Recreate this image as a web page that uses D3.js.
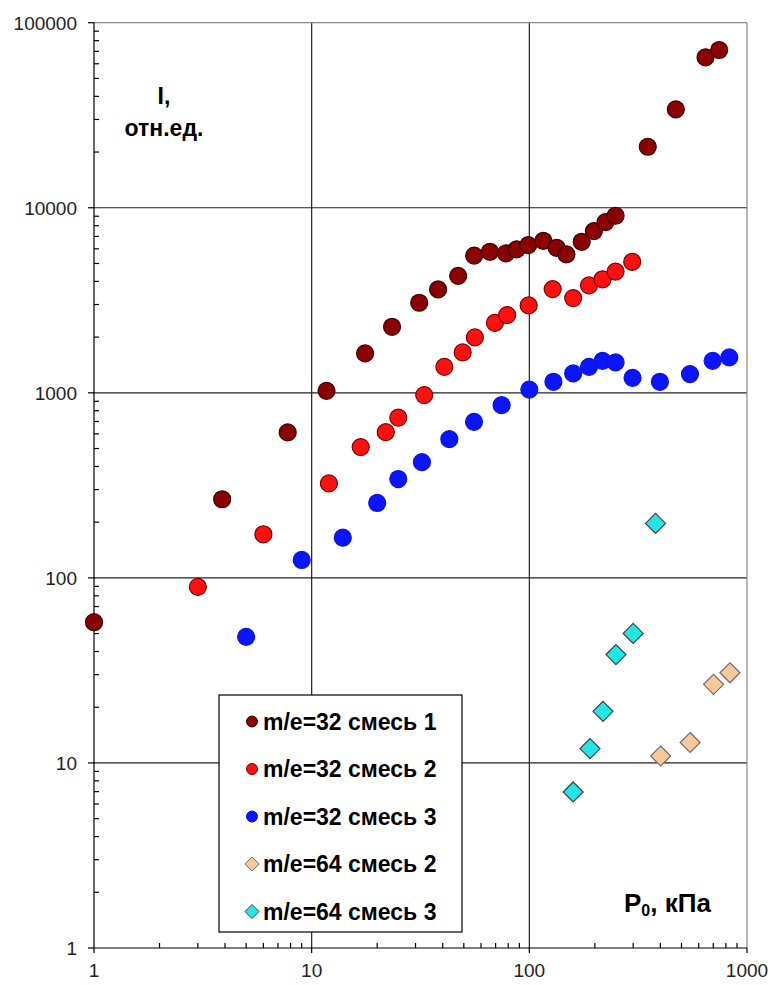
<!DOCTYPE html>
<html><head><meta charset="utf-8">
<script src="https://cdn.jsdelivr.net/npm/d3@7"></script>
<style>body{margin:0;background:#fff}svg{display:block}</style>
</head><body>
<svg id="c" width="771" height="985"></svg>
<script>
// ---- data ----
const s1x = [1, 3.88, 7.76, 11.7, 17.6, 23.4, 31.2, 38.1, 47.1, 55.8, 65.9, 78.1, 87.4, 98.9, 116, 133.5, 148, 174, 198, 224, 249, 350, 471, 645, 745];
const s1y = [57.6, 266, 611, 1025, 1633, 2274, 3066, 3622, 4284, 5515, 5783, 5668, 5961, 6285, 6631, 6077, 5599, 6549, 7483, 8368, 9053, 21370, 34030, 65010, 71190];
const s2x = [3.0, 6.0, 12.0, 16.8, 21.9, 25.0, 32.9, 40.7, 49.4, 56.2, 69.5, 79.1, 99.3, 128, 159, 188, 217, 249, 297];
const s2y = [89.4, 172, 324, 509, 613, 734, 972, 1382, 1653, 1993, 2389, 2630, 2968, 3635, 3250, 3806, 4106, 4520, 5106];
const s3x = [5.0, 9.0, 13.9, 20.0, 25.0, 32.1, 42.9, 55.7, 74.6, 100, 129, 159, 188, 217, 249, 298, 398, 547, 695, 829];
const s3y = [48, 125, 165, 254, 342, 422, 562, 697, 858, 1041, 1147, 1273, 1382, 1489, 1460, 1205, 1147, 1262, 1489, 1554];
const s4x = [401, 548, 702, 835];
const s4y = [10.9, 12.9, 26.6, 30.7];
const s5x = [159, 190, 218, 250, 300, 380];
const s5y = [6.97, 11.96, 19.0, 38.5, 50.1, 197];
const xTicks = [1, 10, 100, 1000];
const yTicks = [1, 10, 100, 1000, 10000, 100000];
const seriesNames = ["m/e=32 смесь 1", "m/e=32 смесь 2", "m/e=32 смесь 3", "m/e=64 смесь 2", "m/e=64 смесь 3"];

const series = [
  {name: seriesNames[0], x: s1x, y: s1y, shape: "circle", fill: "#8b0000", stroke: "#3a0000"},
  {name: seriesNames[1], x: s2x, y: s2y, shape: "circle", fill: "#ff1010", stroke: "#7a0000"},
  {name: seriesNames[2], x: s3x, y: s3y, shape: "circle", fill: "#0a14ff", stroke: "#0a14e0"},
  {name: seriesNames[3], x: s4x, y: s4y, shape: "diamond", fill: "#f8c898", stroke: "#6f6f6f"},
  {name: seriesNames[4], x: s5x, y: s5y, shape: "diamond", fill: "#22e6e6", stroke: "#404040"}
];

const svg = d3.select("#c");
const L = 94, R = 747, T = 22.7, B = 948;
const x = d3.scaleLog().domain([1, 1000]).range([L, R]);
const y = d3.scaleLog().domain([1, 100000]).range([B, T]);
const font = "Arial, 'Liberation Sans', sans-serif";

// grid
const g = svg.append("g");
g.selectAll("line.gx").data(xTicks.slice(1, -1)).join("line")
  .attr("x1", d => x(d)).attr("x2", d => x(d)).attr("y1", T).attr("y2", B)
  .attr("stroke", "#222").attr("stroke-width", 1.2);
g.selectAll("line.gy").data(yTicks.slice(1, -1)).join("line")
  .attr("x1", L).attr("x2", R).attr("y1", d => y(d)).attr("y2", d => y(d))
  .attr("stroke", "#222").attr("stroke-width", 1.2);
g.append("line").attr("x1", L).attr("x2", R).attr("y1", T).attr("y2", T).attr("stroke", "#888").attr("stroke-width", 1.2);
g.append("line").attr("x1", R).attr("x2", R).attr("y1", T).attr("y2", B).attr("stroke", "#888").attr("stroke-width", 1.2);

// minor ticks
const minorX = [], minorY = [];
for (let d = 1; d < 1000; d *= 10) for (let k = 2; k <= 9; k++) minorX.push(d * k);
for (let d = 1; d < 100000; d *= 10) for (let k = 2; k <= 9; k++) minorY.push(d * k);

const ax = svg.append("g").attr("stroke", "#000").attr("stroke-width", 1.2);
ax.append("line").attr("x1", L).attr("x2", L).attr("y1", T).attr("y2", B);
ax.append("line").attr("x1", L).attr("x2", R).attr("y1", B).attr("y2", B);
ax.selectAll("line.mx").data(minorX).join("line")
  .attr("x1", d => x(d)).attr("x2", d => x(d)).attr("y1", B).attr("y2", B - 5);
ax.selectAll("line.my").data(minorY).join("line")
  .attr("x1", L).attr("x2", L + 5).attr("y1", d => y(d)).attr("y2", d => y(d));
ax.selectAll("line.Mx").data(xTicks).join("line")
  .attr("x1", d => x(d)).attr("x2", d => x(d)).attr("y1", B).attr("y2", B + 5);
ax.selectAll("line.My").data(yTicks).join("line")
  .attr("x1", L - 6).attr("x2", L).attr("y1", d => y(d)).attr("y2", d => y(d));

// tick labels
svg.selectAll("text.xl").data(xTicks).join("text")
  .attr("x", d => x(d)).attr("y", 977).attr("text-anchor", "middle")
  .attr("font-family", font).attr("font-size", 19).attr("fill", "#222").text(d => d);
svg.selectAll("text.yl").data(yTicks).join("text")
  .attr("x", 77).attr("y", d => y(d) + 7).attr("text-anchor", "end")
  .attr("font-family", font).attr("font-size", 19).attr("fill", "#222").text(d => d);

// markers
function drawMarker(sel, shape, r) {
  if (shape === "circle") return sel.append("circle").attr("r", r);
  return sel.append("path").attr("d", `M0,${-r}L${r},0L0,${r}L${-r},0Z`);
}
series.forEach(s => {
  const pts = s.x.map((v, i) => [v, s.y[i]]);
  const gg = svg.append("g");
  pts.forEach(p => {
    const m = gg.append("g").attr("transform", `translate(${x(p[0])},${y(p[1])})`);
    drawMarker(m, s.shape, s.shape === "circle" ? 8.5 : 10)
      .attr("fill", s.fill).attr("stroke", s.stroke).attr("stroke-width", 1.2);
  });
});

// axis titles
svg.append("text").attr("x", 164).attr("y", 104).attr("text-anchor", "middle")
  .attr("font-family", font).attr("font-weight", "bold").attr("font-size", 23).text("I,");
svg.append("text").attr("x", 164).attr("y", 136).attr("text-anchor", "middle")
  .attr("font-family", font).attr("font-weight", "bold").attr("font-size", 23).text("отн.ед.");
const xt = svg.append("text").attr("x", 624).attr("y", 912)
  .attr("font-family", font).attr("font-weight", "bold").attr("font-size", 26);
xt.append("tspan").text("P");
xt.append("tspan").attr("font-size", 16).attr("dy", 4).text("0");
xt.append("tspan").attr("dy", -4).text(", кПа");

// legend
const lg = svg.append("g");
lg.append("rect").attr("x", 219).attr("y", 695).attr("width", 243).attr("height", 237)
  .attr("fill", "#fff").attr("stroke", "#000").attr("stroke-width", 1.2);
series.forEach((s, i) => {
  const cy = 721.5 + i * 47.5;
  const m = lg.append("g").attr("transform", `translate(252,${cy})`);
  drawMarker(m, s.shape, s.shape === "circle" ? 5.5 : 7)
    .attr("fill", s.fill).attr("stroke", s.stroke).attr("stroke-width", 1);
  lg.append("text").attr("x", 263).attr("y", cy + 8)
    .attr("font-family", font).attr("font-weight", "bold").attr("font-size", 23).text(s.name);
});
</script>
</body></html>
